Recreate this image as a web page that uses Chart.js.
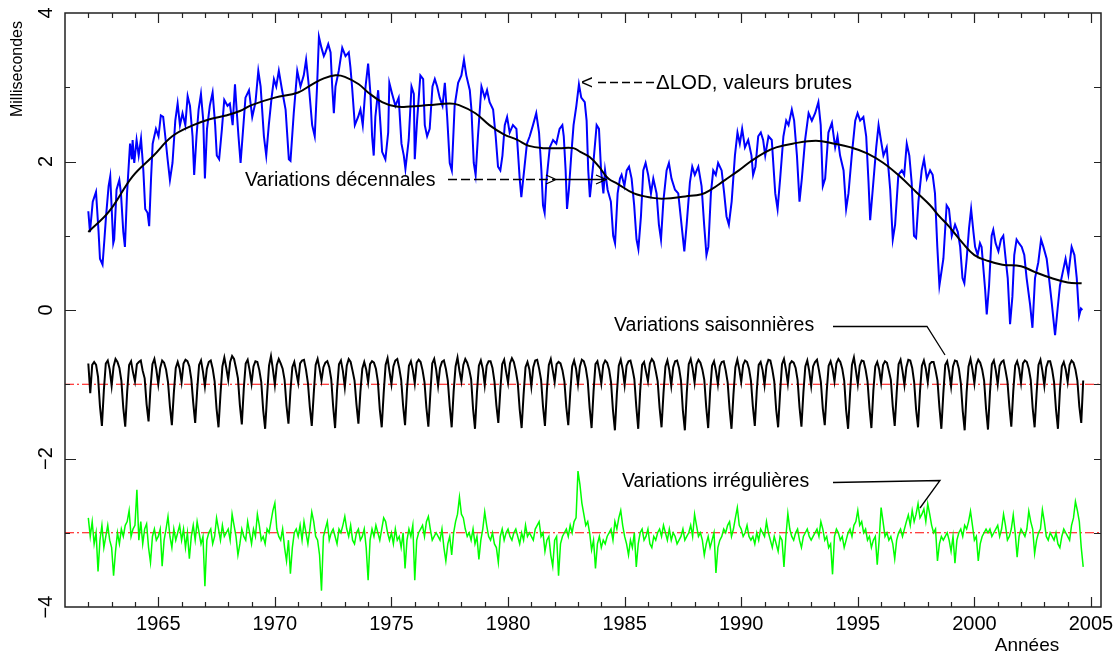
<!DOCTYPE html>
<html>
<head>
<meta charset="utf-8">
<script src="https://cdn.jsdelivr.net/npm/chart.js@4"></script>
<style>
  html, body { margin: 0; padding: 0; background: #fff; }
</style>
</head>
<body>
<canvas id="chart" width="1119" height="658"></canvas>
<script>
// raw LOD (blue), read as turning points off the picture
const rawYears = [
  1962.00, 1962.07, 1962.19, 1962.33, 1962.44, 1962.50, 1962.61, 1962.69, 1962.76, 1962.87, 1962.94,
  1963.01, 1963.07, 1963.11, 1963.21, 1963.33, 1963.40, 1963.50, 1963.57, 1963.66, 1963.79, 1963.87, 1963.90, 1963.97,
  1964.07, 1964.16, 1964.26, 1964.36, 1964.44, 1964.54, 1964.61, 1964.69, 1964.76, 1964.90,
  1965.01, 1965.11, 1965.21, 1965.30, 1965.40, 1965.50, 1965.61, 1965.73, 1965.83, 1965.93,
  1966.04, 1966.16, 1966.26, 1966.36, 1966.47, 1966.54, 1966.64, 1966.73, 1966.83, 1966.93,
  1967.00, 1967.09, 1967.21, 1967.33, 1967.44, 1967.51, 1967.61, 1967.73, 1967.83, 1967.97,
  1968.07, 1968.19, 1968.29, 1968.36, 1968.44, 1968.53, 1968.74, 1968.89,
  1969.03, 1969.17, 1969.29, 1969.39, 1969.53, 1969.63, 1969.74, 1969.86, 1969.96,
  1970.06, 1970.17, 1970.31, 1970.46, 1970.60, 1970.67, 1970.81, 1970.96,
  1971.10, 1971.24, 1971.34, 1971.46, 1971.60, 1971.71, 1971.81, 1971.89,
  1972.00, 1972.10, 1972.17, 1972.29, 1972.39, 1972.46, 1972.53, 1972.60, 1972.74, 1972.89,
  1973.03, 1973.17, 1973.24, 1973.31, 1973.43, 1973.57, 1973.67, 1973.77, 1973.89,
  1974.00, 1974.10, 1974.17, 1974.24, 1974.31, 1974.43, 1974.53, 1974.60, 1974.74, 1974.86, 1974.91,
  1975.03, 1975.17, 1975.31, 1975.43, 1975.53, 1975.60, 1975.74, 1975.86, 1975.96,
  1976.00, 1976.10, 1976.24, 1976.36, 1976.43, 1976.53, 1976.64, 1976.76, 1976.86, 1976.96,
  1977.07, 1977.19, 1977.29, 1977.39, 1977.50, 1977.59, 1977.71, 1977.86,
  1978.00, 1978.11, 1978.21, 1978.36, 1978.43, 1978.53, 1978.61, 1978.71, 1978.86,
  1979.00, 1979.10, 1979.21, 1979.36, 1979.47, 1979.57, 1979.67, 1979.76, 1979.86, 1979.96,
  1980.07, 1980.21, 1980.36, 1980.50, 1980.57, 1980.67, 1980.81, 1980.93,
  1981.07, 1981.21, 1981.33, 1981.43, 1981.50, 1981.57, 1981.64, 1981.79, 1981.93,
  1982.07, 1982.21, 1982.33, 1982.39, 1982.47, 1982.53, 1982.61, 1982.71, 1982.81, 1982.93,
  1983.04, 1983.14, 1983.29, 1983.37, 1983.44, 1983.51, 1983.66, 1983.80, 1983.90, 1983.99,
  1984.09, 1984.16, 1984.27, 1984.41, 1984.51, 1984.59, 1984.70, 1984.80, 1984.87, 1984.99,
  1985.09, 1985.19, 1985.30, 1985.41, 1985.51, 1985.59, 1985.70, 1985.80, 1985.90,
  1986.01, 1986.13, 1986.23, 1986.37, 1986.47, 1986.56, 1986.66, 1986.80, 1986.90,
  1987.01, 1987.16, 1987.30, 1987.44, 1987.56, 1987.66, 1987.80, 1987.90,
  1988.01, 1988.16, 1988.30, 1988.41, 1988.51, 1988.59, 1988.70, 1988.80, 1988.91,
  1989.01, 1989.16, 1989.27, 1989.37, 1989.47, 1989.59, 1989.73, 1989.84, 1989.94,
  1990.04, 1990.16, 1990.30, 1990.44, 1990.51, 1990.61, 1990.73, 1990.84, 1990.94,
  1991.03, 1991.17, 1991.31, 1991.46, 1991.56, 1991.67, 1991.81, 1991.93,
  1992.03, 1992.17, 1992.27, 1992.39, 1992.50, 1992.60, 1992.74, 1992.89,
  1993.03, 1993.17, 1993.31, 1993.41, 1993.50, 1993.60, 1993.74, 1993.89,
  1994.03, 1994.13, 1994.24, 1994.39, 1994.50, 1994.60, 1994.74, 1994.89, 1994.99,
  1995.10, 1995.24, 1995.36, 1995.46, 1995.53, 1995.64, 1995.79, 1995.89, 1995.99,
  1996.10, 1996.24, 1996.39, 1996.50, 1996.60, 1996.74, 1996.89, 1996.99,
  1997.10, 1997.21, 1997.31, 1997.41, 1997.50, 1997.60, 1997.74, 1997.84, 1997.96,
  1998.10, 1998.21, 1998.31, 1998.41, 1998.50, 1998.67, 1998.81, 1998.91,
  1999.03, 1999.17, 1999.29, 1999.39, 1999.49, 1999.57, 1999.67, 1999.77, 1999.86, 1999.96,
  2000.03, 2000.14, 2000.24, 2000.31, 2000.46, 2000.53, 2000.63, 2000.74, 2000.81, 2000.91,
  2001.03, 2001.14, 2001.24, 2001.34, 2001.43, 2001.53, 2001.63, 2001.71, 2001.81, 2001.91,
  2002.03, 2002.14, 2002.24, 2002.39, 2002.49, 2002.60, 2002.74, 2002.86, 2002.96,
  2003.10, 2003.20, 2003.31, 2003.46, 2003.57, 2003.67, 2003.81, 2003.91,
  2004.03, 2004.17, 2004.29, 2004.39, 2004.49, 2004.57, 2004.63
]
const rawValues = [
  1.33, 1.05, 1.46, 1.59, 1.05, 0.69, 0.61, 0.95, 1.26, 1.67, 1.80,
  1.31, 0.90, 0.95, 1.62, 1.75, 1.57, 1.05, 0.85, 1.57, 2.24, 2.03, 2.29, 1.98,
  2.29, 2.08, 2.31, 1.88, 1.36, 1.31, 1.13, 1.77, 2.24, 2.44,
  2.34, 2.62, 2.60, 2.34, 2.03, 1.75, 1.98, 2.55, 2.78, 2.49,
  2.65, 2.49, 2.88, 2.75, 2.34, 1.82, 2.34, 2.70, 2.91, 2.55,
  1.77, 2.44, 2.75, 2.93, 2.49, 2.08, 2.03, 2.44, 2.83, 2.75,
  2.78, 2.49, 3.04, 2.70, 2.34, 1.98, 2.86, 2.96,
  2.60, 2.80, 3.22, 3.01, 2.34, 2.08, 2.49, 2.86, 3.11,
  3.01, 3.22, 2.96, 2.70, 2.03, 2.01, 2.65, 3.22,
  3.01, 3.16, 3.37, 3.01, 2.49, 2.34, 3.01, 3.68,
  3.53, 3.42, 3.47, 3.58, 3.47, 3.01, 2.65, 3.01, 3.22, 3.53,
  3.42, 3.47, 3.27, 3.01, 2.49, 2.60, 2.70, 2.49, 3.01,
  3.32, 2.91, 2.34, 2.08, 2.60, 2.96, 2.49, 2.13, 2.03, 2.39, 3.06,
  2.91, 2.75, 2.86, 2.24, 2.08, 1.90, 2.29, 3.01, 2.91,
  2.03, 2.55, 3.16, 3.11, 2.49, 2.34, 2.44, 3.01, 3.11, 3.01,
  2.86, 2.75, 3.06, 2.60, 1.98, 1.88, 2.75, 3.06,
  3.16, 3.37, 3.16, 2.96, 2.70, 1.98, 1.82, 2.34, 3.01,
  2.86, 2.96, 2.80, 2.70, 2.34, 1.93, 1.88, 2.08, 2.49, 2.60,
  2.39, 2.49, 2.44, 1.77, 1.52, 1.82, 2.24, 2.34,
  2.49, 2.65, 2.39, 1.88, 1.41, 1.31, 1.72, 2.19, 2.29,
  2.24, 2.44, 2.49, 2.34, 1.88, 1.36, 1.62, 2.08, 2.49, 2.75,
  3.04, 2.86, 2.80, 2.55, 1.88, 1.52, 1.98, 2.49, 2.44, 1.88,
  1.57, 1.88, 1.62, 1.46, 1.00, 0.90, 1.57, 1.77, 1.82, 1.67,
  1.88, 1.93, 1.77, 1.41, 0.95, 0.82, 1.26, 1.88, 1.98,
  1.82, 1.57, 1.77, 1.57, 1.15, 0.95, 1.46, 1.88, 1.98,
  1.77, 1.62, 1.57, 1.15, 0.79, 1.15, 1.72, 1.93,
  1.82, 1.93, 1.67, 1.15, 0.74, 0.85, 1.57, 1.88, 1.82,
  1.98, 1.88, 1.57, 1.26, 1.15, 1.46, 2.08, 2.39, 2.24,
  2.44, 2.19, 2.29, 2.08, 1.82, 1.93, 2.34, 2.39, 2.29,
  2.08, 2.34, 2.29, 1.57, 1.36, 1.77, 2.34, 2.55,
  2.49, 2.70, 2.55, 2.08, 1.46, 1.77, 2.29, 2.65,
  2.55, 2.65, 2.80, 2.49, 1.67, 1.77, 2.39, 2.52,
  2.19, 2.34, 2.08, 1.88, 1.36, 1.57, 2.08, 2.55, 2.65,
  2.55, 2.60, 2.34, 1.72, 1.21, 1.62, 2.19, 2.49, 2.29,
  2.08, 2.19, 1.62, 0.95, 1.15, 1.82, 1.88, 1.82,
  2.24, 2.08, 1.72, 1.00, 0.97, 1.46, 1.88, 2.03, 1.77,
  1.88, 1.82, 1.57, 0.85, 0.33, 0.69, 1.41, 1.36,
  1.00, 1.15, 1.05, 0.85, 0.43, 0.36, 0.69, 1.10, 1.36, 1.05,
  0.85, 0.74, 0.90, 0.85, 0.28, -0.06, 0.33, 1.00, 1.08, 0.90,
  0.79, 0.95, 1.00, 0.69, 0.43, -0.19, 0.18, 0.74, 0.95, 0.90,
  0.85, 0.74, 0.43, 0.07, -0.24, 0.43, 0.64, 0.95, 0.85,
  0.69, 0.43, 0.12, -0.34, 0.02, 0.33, 0.54, 0.69,
  0.48, 0.85, 0.74, 0.43, -0.08, 0.02, 0.00
]

// decadal variations (black smooth curve)
const decYears = [
  1962.0, 1962.9, 1963.9, 1964.8, 1965.6, 1966.5, 1967.2, 1967.9, 1968.5, 1969.0, 1970.0, 1971.0,
  1971.6, 1972.1, 1972.6, 1973.0, 1973.6, 1974.0, 1974.6, 1975.2, 1975.8, 1976.6, 1977.5, 1977.9,
  1978.6, 1979.2, 1979.8, 1980.4, 1980.9, 1981.5, 1982.2, 1982.8, 1983.1, 1983.5, 1983.9, 1984.3,
  1984.7, 1985.4, 1986.2, 1986.7, 1987.6, 1988.3, 1988.7, 1989.3, 1989.9, 1990.4, 1991.0, 1991.5,
  1992.2, 1993.2, 1994.0, 1994.7, 1995.4, 1996.1, 1996.8, 1997.5, 1998.1, 1998.5, 1998.9, 1999.5,
  2000.0, 2000.6, 2001.2, 2002.0, 2002.6, 2003.3, 2004.0, 2004.6
]
const decValues = [
  1.05, 1.33, 1.80, 2.08, 2.34, 2.49, 2.57, 2.62, 2.68, 2.76, 2.86, 2.93,
  3.04, 3.12, 3.16, 3.14, 3.04, 2.93, 2.80, 2.74, 2.74, 2.76, 2.78, 2.76,
  2.65, 2.49, 2.37, 2.29, 2.21, 2.18, 2.18, 2.18, 2.13, 2.06, 1.93, 1.77,
  1.70, 1.57, 1.51, 1.50, 1.53, 1.56, 1.62, 1.75, 1.88, 2.00, 2.12, 2.19,
  2.24, 2.28, 2.24, 2.19, 2.11, 1.98, 1.80, 1.59, 1.41, 1.26, 1.13, 0.90,
  0.74, 0.66, 0.61, 0.59, 0.51, 0.43, 0.37, 0.36
]

// seasonal variations, monthly from Jan 1962 (offset -1)
const seasonStart = 1962
const seasonalValues = [
  -0.72, -1.12, -0.74, -0.70, -0.74, -0.90, -1.30, -1.56, -1.08, -0.72, -0.68, -0.80,
  -1.02, -0.76, -0.66, -0.70, -0.78, -0.95, -1.32, -1.57, -1.10, -0.74, -0.69, -0.84,
  -0.96, -0.73, -0.70, -0.68, -0.82, -0.92, -1.27, -1.50, -1.05, -0.73, -0.66, -0.80,
  -1.00, -0.78, -0.68, -0.71, -0.80, -0.97, -1.30, -1.55, -1.12, -0.78, -0.70, -0.79,
  -0.97, -0.72, -0.67, -0.69, -0.76, -0.93, -1.25, -1.52, -1.09, -0.74, -0.68, -0.83,
  -1.03, -0.79, -0.70, -0.68, -0.79, -0.96, -1.33, -1.58, -1.14, -0.76, -0.64, -0.78,
  -0.94, -0.70, -0.62, -0.66, -0.78, -0.92, -1.28, -1.54, -1.06, -0.72, -0.67, -0.81,
  -0.99, -0.76, -0.69, -0.70, -0.81, -0.97, -1.35, -1.60, -1.15, -0.75, -0.62, -0.80,
  -1.01, -0.74, -0.66, -0.72, -0.79, -0.94, -1.29, -1.53, -1.10, -0.77, -0.70, -0.84,
  -0.98, -0.72, -0.68, -0.67, -0.80, -0.98, -1.31, -1.56, -1.13, -0.74, -0.66, -0.79,
  -0.95, -0.77, -0.71, -0.69, -0.77, -0.93, -1.30, -1.59, -1.08, -0.73, -0.68, -0.82,
  -1.04, -0.75, -0.66, -0.70, -0.82, -0.95, -1.27, -1.53, -1.11, -0.79, -0.70, -0.80,
  -0.97, -0.73, -0.69, -0.71, -0.79, -0.96, -1.34, -1.58, -1.12, -0.74, -0.65, -0.83,
  -1.00, -0.76, -0.68, -0.66, -0.78, -0.94, -1.29, -1.55, -1.07, -0.75, -0.69, -0.81,
  -0.99, -0.71, -0.67, -0.70, -0.81, -0.97, -1.32, -1.57, -1.13, -0.72, -0.66, -0.80,
  -1.02, -0.78, -0.70, -0.68, -0.79, -0.95, -1.30, -1.58, -1.10, -0.76, -0.64, -0.82,
  -0.96, -0.74, -0.66, -0.71, -0.80, -0.93, -1.33, -1.60, -1.11, -0.75, -0.68, -0.79,
  -1.01, -0.75, -0.69, -0.69, -0.78, -0.96, -1.28, -1.52, -1.09, -0.73, -0.67, -0.83,
  -0.98, -0.72, -0.65, -0.70, -0.82, -0.98, -1.34, -1.59, -1.14, -0.77, -0.70, -0.80,
  -1.03, -0.77, -0.68, -0.67, -0.79, -0.94, -1.30, -1.56, -1.08, -0.74, -0.66, -0.81,
  -0.97, -0.73, -0.70, -0.72, -0.81, -0.96, -1.31, -1.55, -1.12, -0.76, -0.68, -0.79,
  -1.00, -0.76, -0.67, -0.69, -0.78, -0.95, -1.32, -1.59, -1.10, -0.73, -0.69, -0.82,
  -0.99, -0.74, -0.68, -0.71, -0.80, -0.97, -1.35, -1.62, -1.13, -0.75, -0.67, -0.80,
  -1.01, -0.75, -0.69, -0.68, -0.79, -0.93, -1.30, -1.60, -1.09, -0.74, -0.70, -0.83,
  -0.96, -0.72, -0.66, -0.70, -0.82, -0.96, -1.32, -1.58, -1.12, -0.76, -0.68, -0.81,
  -1.02, -0.77, -0.69, -0.68, -0.78, -0.95, -1.36, -1.62, -1.11, -0.73, -0.66, -0.79,
  -0.98, -0.73, -0.67, -0.71, -0.80, -0.94, -1.31, -1.59, -1.10, -0.75, -0.69, -0.82,
  -1.00, -0.76, -0.70, -0.69, -0.81, -0.97, -1.33, -1.60, -1.14, -0.77, -0.67, -0.80,
  -0.97, -0.74, -0.68, -0.70, -0.79, -0.95, -1.30, -1.56, -1.09, -0.74, -0.70, -0.81,
  -1.01, -0.75, -0.67, -0.68, -0.80, -0.96, -1.34, -1.58, -1.12, -0.73, -0.66, -0.80,
  -0.99, -0.73, -0.69, -0.71, -0.78, -0.94, -1.31, -1.57, -1.11, -0.76, -0.68, -0.82,
  -1.02, -0.76, -0.70, -0.67, -0.81, -0.97, -1.33, -1.55, -1.10, -0.75, -0.69, -0.79,
  -0.96, -0.72, -0.66, -0.70, -0.79, -0.95, -1.35, -1.60, -1.13, -0.74, -0.64, -0.81,
  -1.00, -0.75, -0.68, -0.69, -0.80, -0.96, -1.32, -1.59, -1.09, -0.76, -0.70, -0.80,
  -0.98, -0.74, -0.69, -0.71, -0.82, -0.94, -1.30, -1.56, -1.12, -0.73, -0.67, -0.82,
  -1.01, -0.77, -0.67, -0.68, -0.78, -0.97, -1.34, -1.58, -1.10, -0.75, -0.68, -0.79,
  -0.97, -0.73, -0.70, -0.70, -0.81, -0.95, -1.31, -1.60, -1.13, -0.74, -0.69, -0.83,
  -1.03, -0.76, -0.68, -0.69, -0.79, -0.98, -1.36, -1.62, -1.11, -0.76, -0.66, -0.80,
  -0.99, -0.74, -0.67, -0.71, -0.80, -0.95, -1.33, -1.61, -1.12, -0.73, -0.68, -0.81,
  -1.00, -0.75, -0.70, -0.68, -0.81, -0.96, -1.30, -1.57, -1.10, -0.75, -0.69, -0.79,
  -0.98, -0.72, -0.68, -0.70, -0.79, -0.94, -1.32, -1.58, -1.13, -0.74, -0.67, -0.82,
  -1.02, -0.77, -0.69, -0.69, -0.80, -0.97, -1.34, -1.60, -1.09, -0.76, -0.70, -0.80,
  -0.97, -0.74, -0.68, -0.71, -0.80, -0.95, -1.30, -1.52, -0.95
]

// irregular variations, monthly from Jan 1962 (offset -3)
const irregStart = 1962
const irregValues = [
  -2.80, -3.05, -2.85, -3.15, -3.00, -3.52, -3.10, -2.90, -3.20, -3.05, -2.90, -3.10,
  -3.20, -3.58, -3.25, -3.00, -3.15, -2.95, -3.05, -2.90, -2.85, -2.70, -3.05, -2.95,
  -2.90, -2.42, -3.10, -2.85, -3.15, -2.95, -2.88, -3.20, -3.40, -3.05, -2.95, -3.10,
  -3.05, -2.95, -3.45, -3.10, -2.95, -2.78, -3.05, -3.20, -2.95, -3.10, -3.00, -2.90,
  -3.10, -2.95, -3.20, -3.00, -3.35, -3.05, -2.90, -3.10, -2.85, -3.00, -3.15, -3.05,
  -3.72, -3.10, -3.00, -2.95, -3.15, -3.05, -2.80, -2.95, -3.10, -2.90, -3.05, -3.00,
  -2.95, -3.10, -2.75, -2.90, -3.05, -3.30, -3.15, -2.95, -3.05, -3.10, -2.85, -3.00,
  -3.15, -2.95, -3.05, -2.75, -2.90, -3.10, -3.05, -3.15, -2.95, -3.00, -2.85, -2.70,
  -2.60, -2.95, -3.05, -3.10, -2.95, -3.20, -3.38, -3.10, -3.55, -3.20, -3.00, -2.95,
  -3.05, -2.90, -3.10, -2.85, -3.00, -3.15, -2.95, -2.72, -2.85, -3.05, -3.10, -3.30,
  -3.78, -3.05, -2.95, -2.85, -3.10, -3.00, -2.95, -3.05, -3.15, -2.95, -3.00, -2.90,
  -2.78, -2.95, -3.05, -2.90, -3.10, -3.15, -3.00, -2.95, -3.10, -3.05, -2.95, -3.20,
  -3.64, -3.10, -2.95, -3.05, -2.90, -3.00, -3.10, -2.95, -2.80, -2.85, -3.00, -3.10,
  -3.00, -3.15, -2.95, -3.10, -3.05, -3.20, -3.00, -3.48, -3.10, -2.95, -3.05, -2.90,
  -3.64, -3.10, -3.00, -2.95, -2.90, -3.05, -2.85, -2.78, -2.95, -3.10, -3.05, -3.00,
  -3.05, -3.10, -2.95, -3.20, -3.38, -3.15, -3.05, -3.30, -3.00, -2.85, -2.75, -2.52,
  -2.75, -2.80, -2.95, -3.05, -3.00, -3.10, -2.95, -3.15, -3.05, -3.36, -3.10, -2.95,
  -2.72, -2.90, -3.05, -3.10, -3.00, -3.15, -3.20, -3.40, -3.05, -2.95, -3.10, -3.00,
  -2.95, -3.05, -3.10, -3.00, -2.95, -3.05, -3.15, -3.00, -3.10, -2.90, -3.05, -3.00,
  -3.05, -3.10, -2.95, -2.90, -2.85, -3.05, -3.00, -3.25, -3.10, -3.05, -3.30, -3.45,
  -3.10, -3.05, -3.58, -3.15, -3.05, -3.00, -2.95, -3.05, -2.90, -3.00, -2.85, -2.80,
  -2.17, -2.35, -2.60, -2.75, -2.90, -2.85, -3.00, -3.23, -3.10, -3.48, -3.15, -3.05,
  -3.20, -3.10, -3.15, -3.05, -3.00, -2.95, -3.10, -2.85, -2.95, -2.80, -2.70, -2.90,
  -3.05, -3.15, -3.30, -3.10, -3.20, -3.00, -3.46, -3.15, -3.00, -2.95, -3.10, -3.05,
  -2.95, -3.15, -3.20, -3.05, -3.10, -3.00, -2.95, -3.05, -2.90, -3.00, -3.10, -2.95,
  -3.10, -3.00, -3.05, -3.15, -3.10, -3.05, -2.95, -3.10, -3.05, -3.00, -2.90, -3.05,
  -2.75, -2.90, -3.05, -3.00, -3.10, -3.30, -3.15, -3.05, -3.20, -3.10, -3.00, -3.54,
  -3.20, -3.10, -3.05, -2.95, -3.00, -2.90, -2.85, -3.05, -2.95, -2.80, -2.66, -2.90,
  -2.95, -3.05, -3.00, -2.90, -3.05, -3.10, -3.05, -3.15, -3.00, -3.10, -2.95, -3.00,
  -3.05, -2.85, -3.00, -3.10, -3.20, -3.05, -3.15, -3.25, -3.05, -3.10, -3.46, -3.05,
  -2.74, -2.95, -3.05, -3.10, -3.00, -2.95, -3.10, -3.20, -3.05, -3.00, -2.95, -3.05,
  -3.10, -3.05, -3.00, -2.95, -3.05, -2.85, -2.95, -3.10, -3.05, -3.20, -3.15, -3.56,
  -3.05, -2.95, -3.00, -3.10, -3.05, -3.20, -3.10, -3.00, -2.95, -3.05, -2.90, -2.85,
  -2.70, -2.90, -2.85, -3.00, -2.95, -3.10, -3.05, -3.20, -3.10, -3.05, -3.43, -3.10,
  -2.66, -2.85, -3.05, -3.00, -3.10, -3.05, -3.15, -3.35, -3.10, -3.00, -2.95, -3.05,
  -2.95, -2.85, -2.76, -2.90, -2.70, -2.85, -2.75, -2.61, -2.80, -2.75, -2.68, -2.85,
  -2.61, -2.75, -2.90, -3.00, -2.95, -3.38, -3.15, -3.05, -3.10, -3.05, -3.00, -3.10,
  -3.25, -3.05, -3.41, -3.10, -3.00, -2.95, -3.05, -2.90, -2.95, -2.85, -2.71, -2.90,
  -3.10, -3.05, -3.38, -3.15, -3.05, -3.00, -2.95, -3.00, -2.95, -3.05, -3.00, -2.95,
  -2.90, -3.05, -2.95, -2.75, -2.90, -3.10, -3.05, -2.95, -2.76, -3.00, -3.33, -3.05,
  -2.95, -3.00, -3.05, -2.95, -2.71, -2.85, -2.95, -3.28, -3.10, -3.00, -2.95, -2.69,
  -2.85, -3.05, -3.10, -3.00, -3.05, -3.10, -3.00, -3.15, -3.20, -3.05, -2.95, -3.00,
  -3.05, -3.10, -2.90, -2.80, -2.58, -2.70, -2.85, -3.20, -3.46
]

const refLevels = [-1, -3]
const xLabelYears = [1965, 1970, 1975, 1980, 1985, 1990, 1995, 2000, 2005]
const yLabelValues = [4, 2, 0, -2, -4]
const xMin = 1961
const xMax = 2005.43

const FONT = '"Liberation Sans", Arial, sans-serif'

function pairs( xs, ys ) {
  return ys.map( ( v, i ) => ( { x: xs[i], y: v } ) )
}

function monthly( start, vals ) {
  return vals.map( ( v, i ) => ( { x: start + i / 12, y: v } ) )
}

// frame, inward ticks, tick labels and the annotations
const decorPlugin = {
  id: 'decor',
  afterDraw( chart ) {
    const { ctx, chartArea: a, scales: { x, y } } = chart
    ctx.save()
    ctx.strokeStyle = '#222'
    ctx.lineWidth = 1.5
    ctx.strokeRect( a.left, a.top, a.right - a.left, a.bottom - a.top )

    ctx.lineWidth = 1.2
    ctx.beginPath()
    for ( let yr = 1962; yr <= 2005; yr++ ) {
      const px = Math.round( x.getPixelForValue( yr ) ) + 0.5
      const len = yr % 5 === 0 ? 10 : 5
      ctx.moveTo( px, a.bottom ); ctx.lineTo( px, a.bottom - len )
      ctx.moveTo( px, a.top ); ctx.lineTo( px, a.top + len )
    }
    for ( let v = -3; v <= 3; v++ ) {
      const py = Math.round( y.getPixelForValue( v ) ) + 0.5
      const len = v % 2 === 0 ? 11 : 5
      ctx.moveTo( a.left, py ); ctx.lineTo( a.left + len, py )
      ctx.moveTo( a.right, py ); ctx.lineTo( a.right - 7, py )
    }
    ctx.stroke()

    ctx.fillStyle = '#000'
    ctx.font = '20px ' + FONT
    ctx.textAlign = 'center'
    ctx.textBaseline = 'middle'
    xLabelYears.forEach( ( yr ) => {
      ctx.fillText( String( yr ), x.getPixelForValue( yr ), a.bottom + 17 )
    } )
    yLabelValues.forEach( ( v ) => {
      const txt = v < 0 ? '\u2212' + Math.abs( v ) : String( v )
      ctx.save()
      ctx.translate( 46, y.getPixelForValue( v ) )
      ctx.rotate( -Math.PI / 2 )
      ctx.fillText( txt, 0, 0 )
      ctx.restore()
    } )

    ctx.font = '16px ' + FONT
    ctx.save()
    ctx.translate( 18, 69 )
    ctx.rotate( -Math.PI / 2 )
    ctx.fillText( 'Millisecondes', 0, 0 )
    ctx.restore()

    ctx.font = '19px ' + FONT
    ctx.fillText( 'Années', 1027, 646 )

    // annotations
    ctx.textAlign = 'left'
    ctx.textBaseline = 'alphabetic'
    ctx.font = '20.5px ' + FONT
    ctx.fillText( '<', 581, 89 )
    ctx.fillText( '\u0394LOD, valeurs brutes', 656, 89 )
    ctx.font = '19.5px ' + FONT
    ctx.fillText( 'Variations décennales', 245, 186 )
    ctx.fillText( 'Variations saisonnières', 614, 331 )
    ctx.fillText( 'Variations irrégulières', 622, 487 )

    ctx.strokeStyle = '#000'
    ctx.lineWidth = 1.3
    ctx.setLineDash( [ 8, 4 ] )
    ctx.beginPath()
    ctx.moveTo( 598, 82.5 ); ctx.lineTo( 656, 82.5 )
    ctx.stroke()
    ctx.setLineDash( [ 9, 4 ] )
    ctx.beginPath()
    ctx.moveTo( 448, 179.5 ); ctx.lineTo( 554, 179.5 )
    ctx.stroke()
    ctx.setLineDash( [] )
    ctx.beginPath()
    ctx.moveTo( 554, 179.5 ); ctx.lineTo( 604, 179.5 )
    ctx.moveTo( 546, 175 ); ctx.lineTo( 556, 179.5 ); ctx.lineTo( 546, 184 )
    ctx.moveTo( 596, 175 ); ctx.lineTo( 606, 179.5 ); ctx.lineTo( 596, 184 )
    ctx.moveTo( 833, 326.5 ); ctx.lineTo( 927, 326.5 ); ctx.lineTo( 945, 355 )
    ctx.moveTo( 833, 482.5 ); ctx.lineTo( 940, 480.5 ); ctx.lineTo( 920, 508 )
    ctx.stroke()
    ctx.restore()
  }
}

const refSets = refLevels.map( ( lv ) => ( {
  data: [ { x: xMin, y: lv }, { x: xMax, y: lv } ],
  borderColor: '#ff0000',
  borderWidth: 1,
  borderDash: [ 9, 3, 2, 3 ],
  order: 5,
} ) )

new Chart( document.getElementById( 'chart' ), {
  type: 'line',
  data: {
    datasets: [
      { data: pairs( decYears, decValues ), borderColor: '#000', borderWidth: 2, tension: 0.4, order: 0 },
      { data: pairs( rawYears, rawValues ), borderColor: '#0000ff', borderWidth: 2, order: 1 },
      { data: monthly( seasonStart, seasonalValues ), borderColor: '#000', borderWidth: 2, order: 2 },
      { data: monthly( irregStart, irregValues ), borderColor: '#00ff00', borderWidth: 1.5, order: 3 },
      ...refSets,
    ],
  },
  options: {
    responsive: false,
    animation: false,
    devicePixelRatio: 1,
    layout: { padding: { left: 65, right: 18, top: 13, bottom: 51 } },
    elements: { point: { radius: 0 }, line: { tension: 0 } },
    plugins: { legend: { display: false }, tooltip: { enabled: false } },
    scales: {
      x: { type: 'linear', min: xMin, max: xMax, display: false },
      y: { min: -4, max: 4, display: false },
    },
  },
  plugins: [ decorPlugin ],
} )
</script>
</body>
</html>
